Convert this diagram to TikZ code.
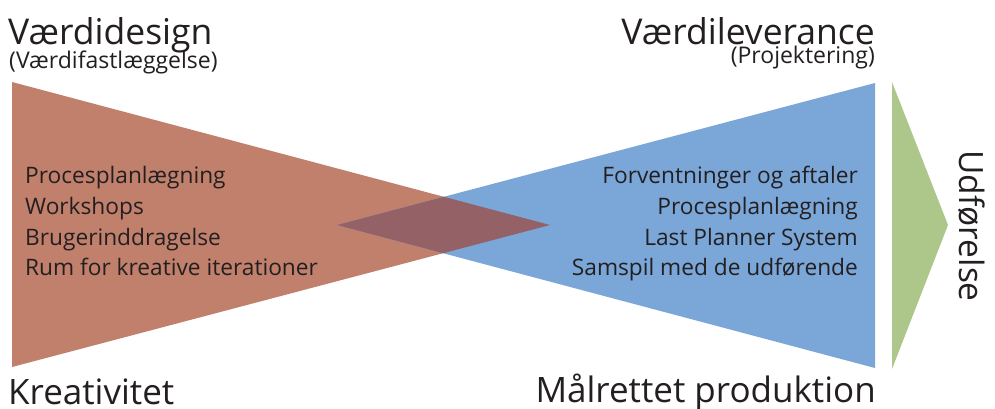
\documentclass[tikz,border=0pt]{standalone}
\usepackage{fontspec}
\setmainfont{Open Sans}
\definecolor{redtri}{HTML}{C1806C}
\definecolor{bluetri}{HTML}{7BA6D8}
\definecolor{overlap}{HTML}{946166}
\definecolor{greentri}{HTML}{ADC68A}
\definecolor{ink}{HTML}{231F20}
\begin{document}
\begin{tikzpicture}[x=1pt,y=-1pt,
  title/.style={font=\fontsize{35.5}{38}\selectfont, text=ink, inner sep=0pt},
  subtitle/.style={font=\fontsize{23}{25}\selectfont, text=ink, inner sep=0pt},
  item/.style={font=\fontsize{22.7}{25}\selectfont, text=ink, inner sep=0pt},
  bottom/.style={font=\fontsize{35}{38}\selectfont, text=ink, inner sep=0pt}]
\useasboundingbox (0,0) rectangle (995,409);
% shapes
\coordinate (rt) at (12,82);
\coordinate (rb) at (12,367);
\coordinate (ra) at (550,225);
\coordinate (bt) at (875,83);
\coordinate (bb) at (875,368);
\coordinate (ba) at (337,225);
\fill[redtri] (rt) -- (rb) -- (ra) -- cycle;
\fill[bluetri] (bt) -- (bb) -- (ba) -- cycle;
\begin{scope}
  \clip (rt) -- (rb) -- (ra) -- cycle;
  \fill[overlap] (bt) -- (bb) -- (ba) -- cycle;
\end{scope}
\fill[greentri] (892,82) -- (892,369) -- (948,225) -- cycle;
% titles
\node[title, anchor=base west] (t1) at (8,45) {Værdidesign};
\node[subtitle, anchor=base west] (s1) at (9,69) {(Værdifastlæggelse)};
\node[title, anchor=base east] (t2) at (875,45) {Værdileverance};
\node[subtitle, anchor=base east] (s2) at (875,64) {(Projektering)};
% left list
\node[item, anchor=base west] (l1) at (25,183) {Procesplanlægning};
\node[item, anchor=base west] (l2) at (25,214) {Workshops};
\node[item, anchor=base west] (l3) at (25,245) {Brugerinddragelse};
\node[item, anchor=base west] (l4) at (25,275) {Rum for kreative iterationer};
% right list
\node[item, anchor=base east] (r1) at (858,183) {Forventninger og aftaler};
\node[item, anchor=base east] (r2) at (858,214) {Procesplanlægning};
\node[item, anchor=base east] (r3) at (858,245) {Last Planner System};
\node[item, anchor=base east] (r4) at (858,275) {Samspil med de udførende};
% side
\node[font=\fontsize{33.5}{36}\selectfont, text=ink, inner sep=0pt, rotate=-90] (ud) at (972,226) {Udførelse};
% bottom
\node[bottom, anchor=base west] (k) at (8,404) {Kreativitet};
\node[bottom, anchor=base east] (m) at (876,402) {Målrettet produktion};
\end{tikzpicture}
\end{document}
